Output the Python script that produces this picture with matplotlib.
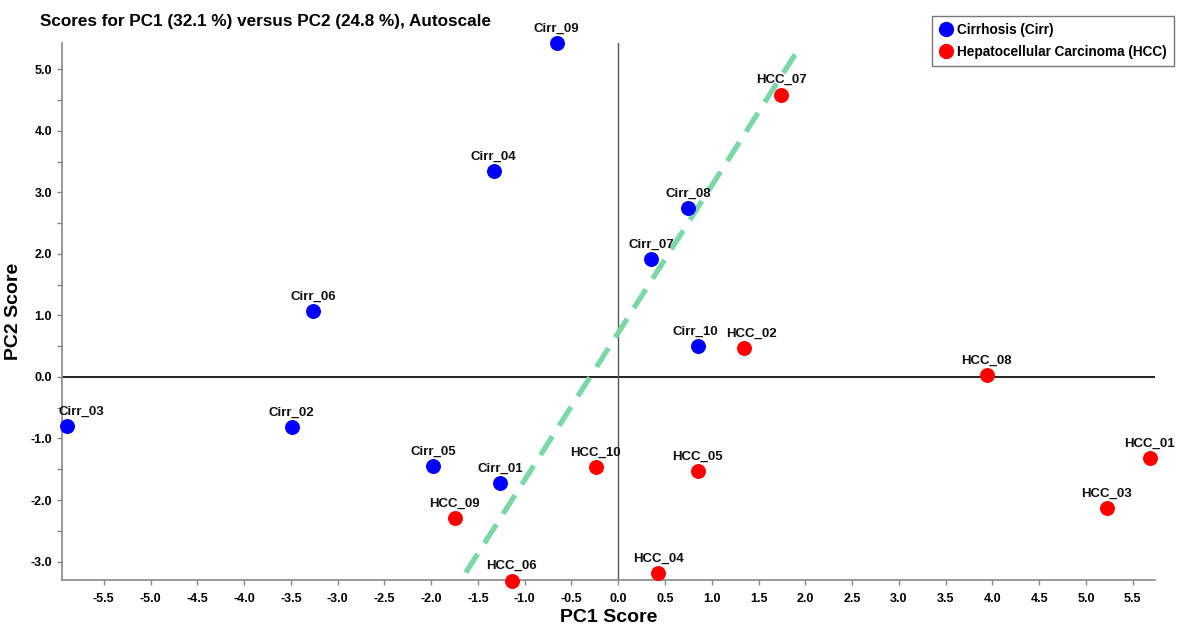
import matplotlib
matplotlib.use("Agg")
import matplotlib.pyplot as plt
from matplotlib.ticker import MultipleLocator, FormatStrFormatter
from matplotlib.lines import Line2D

plt.rcParams['font.family'] = ['Liberation Sans', 'DejaVu Sans']

cirr_names = ["Cirr_01", "Cirr_02", "Cirr_03", "Cirr_04", "Cirr_05",
              "Cirr_06", "Cirr_07", "Cirr_08", "Cirr_09", "Cirr_10"]
cirr_pc1 = [-1.26, -3.49, -5.89, -1.33, -1.98, -3.26, 0.35, 0.75, -0.66, 0.85]
cirr_pc2 = [-1.73, -0.81, -0.80, 3.34, -1.45, 1.07, 1.91, 2.74, 5.42, 0.50]

hcc_names = ["HCC_01", "HCC_02", "HCC_03", "HCC_04", "HCC_05",
             "HCC_06", "HCC_07", "HCC_08", "HCC_09", "HCC_10"]
hcc_pc1 = [5.68, 1.34, 5.22, 0.43, 0.85, -1.14, 1.74, 3.94, -1.75, -0.24]
hcc_pc2 = [-1.32, 0.47, -2.13, -3.19, -1.53, -3.31, 4.59, 0.03, -2.30, -1.47]

sep_x = [-1.63, 1.89]
sep_y = [-3.18, 5.24]

fig = plt.figure(figsize=(11.86, 6.26), dpi=100)
ax = fig.add_axes([0.052, 0.0735, 0.922, 0.858])

ax.set_xlim(-5.95, 5.74)
ax.set_ylim(-3.30, 5.43)

ax.axhline(0, color='#222222', lw=1.4, zorder=1)
ax.axvline(0, color='#555555', lw=1.0, zorder=1)

ax.plot(sep_x, sep_y, color='#7ad8a6', lw=3.8, dashes=(4.2, 2.4),
        solid_capstyle='butt', zorder=2)

ax.scatter(cirr_pc1, cirr_pc2, s=95, color='#0000ff', zorder=3, clip_on=False)
ax.scatter(hcc_pc1, hcc_pc2, s=95, color='#ff0000', zorder=3, clip_on=False)

label_dx = {"Cirr_03": 10, "HCC_02": 6, "Cirr_10": -2}

def label(names, xs, ys):
    for n, x, y in zip(names, xs, ys):
        dx = label_dx.get(n, 0)
        ax.annotate(n, (x, y), xytext=(dx, 6), textcoords='offset points',
                    ha='center', va='bottom', fontsize=9.5, fontweight='bold',
                    color='#111111', annotation_clip=False, zorder=4)

label(cirr_names, cirr_pc1, cirr_pc2)
label(hcc_names, hcc_pc1, hcc_pc2)

for s in ['top', 'right']:
    ax.spines[s].set_visible(False)
for s in ['left', 'bottom']:
    ax.spines[s].set_color('#888888')
    ax.spines[s].set_linewidth(1.2)

ax.xaxis.set_major_locator(MultipleLocator(0.5))
ax.xaxis.set_major_formatter(FormatStrFormatter('%.1f'))
ax.yaxis.set_major_locator(MultipleLocator(1.0))
ax.yaxis.set_minor_locator(MultipleLocator(0.5))
ax.yaxis.set_major_formatter(FormatStrFormatter('%.1f'))
ax.tick_params(axis='both', which='both', direction='out', color='#888888',
               labelsize=9, length=3.5, width=1.0)
ax.tick_params(axis='x', pad=6)
for t in ax.get_xticklabels() + ax.get_yticklabels():
    t.set_fontweight('bold')

ax.set_xlabel('PC1 Score', fontsize=14, fontweight='bold', labelpad=3)
ax.set_ylabel('PC2 Score', fontsize=14, fontweight='bold', labelpad=6)

fig.text(0.034, 0.965, 'Scores for PC1 (32.1 %) versus PC2 (24.8 %), Autoscale',
         fontsize=12.3, fontweight='bold', ha='left', va='center')

handles = [Line2D([], [], marker='o', ls='none', color='#0000ff', markersize=10),
           Line2D([], [], marker='o', ls='none', color='#ff0000', markersize=10)]
leg = fig.legend(handles, ['Cirrhosis (Cirr)', 'Hepatocellular Carcinoma (HCC)'],
                 loc='upper right', bbox_to_anchor=(0.996, 0.986), fancybox=False,
                 edgecolor='#777777', framealpha=1, handletextpad=0.3,
                 borderpad=0.55, labelspacing=0.55, handlelength=1.0,
                 prop={'size': 9.8, 'weight': 'bold'})
leg.get_frame().set_linewidth(1.0)

fig.savefig('out.png', dpi=100)
